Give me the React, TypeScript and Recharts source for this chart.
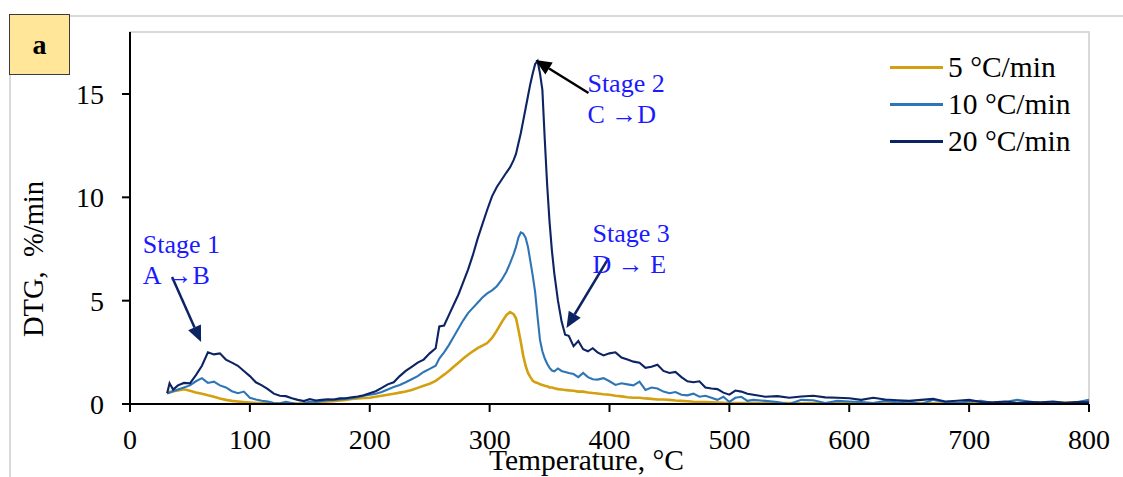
import React from 'react'
import {
  LineChart, Line, XAxis, YAxis, ReferenceArea, ReferenceLine, ReferenceDot, Label,
} from 'recharts'

// temperature grid, °C (denser around the main peak)
const temps = [
  31, 33, 36, 40, 45, 50, 55, 60, 65, 70,
  75, 80, 85, 90, 95, 100, 105, 110, 115, 120,
  125, 130, 135, 140, 145, 150, 155, 160, 165, 170,
  175, 180, 185, 190, 195, 200, 205, 210, 215, 220,
  225, 230, 235, 240, 245, 250, 255, 258, 262, 266,
  270, 274, 278, 282, 286, 290, 294, 298, 302, 306,
  310, 314, 317, 320, 322, 324, 326, 328, 330, 332,
  334, 336, 338, 340, 342, 344, 346, 348, 350, 352,
  354, 357, 360, 363, 366, 370, 374, 378, 382, 386,
  390, 395, 400, 405, 410, 415, 420, 425, 430, 435,
  440, 445, 450, 455, 460, 465, 470, 475, 480, 485,
  490, 495, 500, 505, 510, 515, 520, 530, 540, 550,
  560, 570, 580, 590, 600, 610, 620, 630, 640, 650,
  660, 670, 680, 690, 700, 710, 720, 730, 740, 750,
  760, 770, 780, 790, 800,
]

// DTG, %/min
const dtg5 = [
  0.52, 0.58, 0.62, 0.66, 0.71, 0.64, 0.56, 0.5, 0.42, 0.35,
  0.27, 0.2, 0.15, 0.12, 0.09, 0.07, 0.05, 0.04, 0.03, 0.02,
  0.01, 0.01, 0.01, 0.02, 0.03, 0.05, 0.07, 0.09, 0.12, 0.14,
  0.17, 0.2, 0.24, 0.27, 0.29, 0.3, 0.35, 0.4, 0.45, 0.5,
  0.55, 0.6, 0.68, 0.78, 0.88, 0.98, 1.12, 1.25, 1.42, 1.6,
  1.8, 2.0, 2.2, 2.38, 2.55, 2.7, 2.82, 2.95, 3.2, 3.55,
  3.95, 4.3, 4.45, 4.35, 4.15, 3.6, 3.0, 2.35, 1.85, 1.5,
  1.3, 1.12, 1.05, 1.02, 0.95, 0.92, 0.88, 0.86, 0.8, 0.8,
  0.76, 0.72, 0.7, 0.68, 0.66, 0.64, 0.6, 0.6, 0.56, 0.53,
  0.51, 0.47, 0.45, 0.4, 0.37, 0.33, 0.3, 0.3, 0.27, 0.25,
  0.22, 0.22, 0.2, 0.17, 0.15, 0.13, 0.11, 0.1, 0.09, 0.08,
  0.07, 0.06, 0.05, 0.05, 0.04, 0.05, 0.04, 0.04, 0.03, 0.05,
  0.03, 0.04, 0.03, 0.05, 0.03, 0.04, 0.03, 0.04, 0.03, 0.02,
  0.04, 0.03, 0.02, 0.03, 0.04, 0.05, 0.03, 0.04, 0.05, 0.06,
  0.05, 0.07, 0.06, 0.08, 0.15,
]

const dtg10 = [
  0.52, 0.55, 0.62, 0.7, 0.8, 0.9, 1.1, 1.25, 1.02, 1.08,
  0.9, 0.8, 0.62, 0.52, 0.6, 0.3, 0.22, 0.16, 0.12, 0.05,
  0.03, 0.1, 0.05, 0.0, 0.02, 0.12, 0.1, 0.15, 0.18, 0.2,
  0.22, 0.25, 0.28, 0.33, 0.4, 0.45, 0.5, 0.58, 0.7, 0.82,
  0.92, 1.05, 1.2, 1.35, 1.55, 1.7, 1.85, 2.2, 2.5, 2.85,
  3.25, 3.65, 4.05, 4.4, 4.65, 4.9, 5.15, 5.35, 5.5, 5.7,
  6.0, 6.4, 6.8, 7.25, 7.6, 8.05, 8.3, 8.25, 8.05, 7.6,
  6.9, 6.2, 5.4, 4.2, 3.1, 2.55, 2.2, 1.95, 1.75, 1.62,
  1.58, 1.72, 1.6, 1.55, 1.5, 1.45, 1.3, 1.5, 1.3, 1.2,
  1.18, 1.25, 1.1, 0.92, 1.0, 0.95, 0.9, 1.08, 0.68, 0.8,
  0.75, 0.6, 0.52, 0.58, 0.45, 0.42, 0.5, 0.35, 0.4, 0.3,
  0.2, 0.35, 0.1, 0.3, 0.35, 0.15, 0.2, 0.15, 0.1, 0.0,
  0.2, 0.18, 0.05, 0.15, 0.12, 0.1, 0.05, 0.15, 0.08, 0.12,
  0.0, 0.2, 0.1, 0.05, 0.12, 0.15, 0.05, 0.1, 0.2, 0.12,
  0.05, 0.1, 0.0, 0.08, 0.2,
]

const dtg20 = [
  0.52, 1.0, 0.7, 0.9, 1.02, 1.0, 1.4, 1.85, 2.5, 2.4,
  2.45, 2.15, 2.0, 1.85, 1.6, 1.35, 1.05, 0.9, 0.72, 0.5,
  0.4, 0.38, 0.28, 0.2, 0.14, 0.24, 0.17, 0.2, 0.23, 0.22,
  0.27, 0.28, 0.33, 0.36, 0.42, 0.52, 0.62, 0.78, 0.95, 1.05,
  1.35, 1.6, 1.8, 2.0, 2.15, 2.45, 2.7, 3.75, 3.8, 4.3,
  4.8, 5.3, 5.9, 6.5, 7.2, 8.0, 8.7, 9.4, 10.05, 10.5,
  10.85, 11.2, 11.45, 11.8, 12.1, 12.6, 13.1, 13.7, 14.3, 14.9,
  15.5, 16.0, 16.45, 16.6, 16.0, 15.2, 12.8, 10.6, 8.8, 7.4,
  6.3, 5.0, 4.0, 3.35, 3.3, 2.8, 3.05, 2.65, 2.55, 2.7,
  2.5, 2.35, 2.45, 2.5, 2.25, 2.15, 2.05, 2.0, 1.75, 1.8,
  1.9, 1.6, 1.5, 1.55, 1.3, 1.1, 1.05, 1.1, 0.8, 0.75,
  0.72, 0.55, 0.45, 0.65, 0.6, 0.5, 0.45, 0.35, 0.38, 0.3,
  0.36, 0.4, 0.32, 0.3, 0.28, 0.2, 0.3, 0.22, 0.18, 0.15,
  0.2, 0.25, 0.12, 0.16, 0.2, 0.1, 0.08, 0.12, 0.05, 0.1,
  0.08, 0.12, 0.06, 0.1, 0.08,
]

const seriesNames = ['5 °C/min', '10 °C/min', '20 °C/min']
const xTicks = [0, 100, 200, 300, 400, 500, 600, 700, 800]
const yTicks = [0, 5, 10, 15]

// stage annotations, in data units (temperature, DTG)
const stageText = [
  { t: 10.6, v: 7.32, lines: ['Stage 1', 'A \u2192B'] },
  { t: 381.6, v: 15.11, lines: ['Stage 2', 'C \u2192D'] },
  { t: 385.8, v: 7.85, lines: ['Stage 3', 'D \u2192 E'] },
]
const stageArrows = [
  { from: [35.1, 6.14], to: [59.3, 3.0], color: '#0c2364' },
  { from: [382.5, 15.05], to: [338.2, 16.64], color: '#000000' },
  { from: [399.2, 7.06], to: [364.1, 3.68], color: '#0c2364' },
]

const rows = temps.map((t, i) => ({ t, d5: dtg5[i], d10: dtg10[i], d20: dtg20[i] }))

const FONT = '"Liberation Serif", "Times New Roman", serif'
const COLORS = ['#d4a00f', '#2e75b6', '#0c2364']
const KEYS = ['d5', 'd10', 'd20']

function arrowShape(color: string) {
  return (p: any) => {
    const { x1, y1, x2, y2 } = p
    const dx = x2 - x1
    const dy = y2 - y1
    const len = Math.sqrt(dx * dx + dy * dy) || 1
    const ux = dx / len
    const uy = dy / len
    const head = 16
    const half = 7
    const bx = x2 - ux * head
    const by = y2 - uy * head
    return (
      <g>
        <line x1={x1} y1={y1} x2={bx} y2={by} stroke={color} strokeWidth={2.5} />
        <polygon
          points={`${x2},${y2} ${bx - uy * half},${by + ux * half} ${bx + uy * half},${by - ux * half}`}
          fill={color}
        />
      </g>
    )
  }
}

function stageShape(lines: string[]) {
  return (p: any) => (
    <text x={p.cx} y={p.cy} fill="#1a1aff" fontSize={26} fontFamily={FONT}>
      {lines.map((s, i) => (
        <tspan key={i} x={p.cx} dy={i === 0 ? 0 : 31}>{s}</tspan>
      ))}
    </text>
  )
}

export default function App() {
  return (
    <div style={{ position: 'absolute', left: 0, top: 0, width: 1123, height: 477, background: '#fff', overflow: 'hidden', fontFamily: FONT }}>
      <div style={{ position: 'absolute', left: 9, top: 15, width: 1200, height: 500, borderLeft: '2px solid #d9d9d9', borderTop: '2px solid #d9d9d9' }} />
      <div style={{ position: 'absolute', left: 0, top: 0 }}>
        <LineChart width={1123} height={477} data={rows} margin={{ top: 32, right: 34, bottom: 0, left: 30 }}>
          <ReferenceArea x1={0} x2={800} y1={0} y2={18} fill="none" stroke="#d9d9d9" strokeWidth={2} />
          <XAxis
            dataKey="t"
            type="number"
            domain={[0, 800]}
            ticks={xTicks}
            height={73}
            tickSize={8}
            tickMargin={17}
            axisLine={{ stroke: '#000', strokeWidth: 2 }}
            tickLine={{ stroke: '#000', strokeWidth: 2 }}
            tick={{ fill: '#000', fontSize: 28, fontFamily: FONT }}
          >
            <Label
              content={(p: any) => {
                const vb = p.viewBox || { x: 130, width: 959 }
                return (
                  <text x={vb.x + vb.width / 2 - 23} y={470} textAnchor="middle" fill="#000" fontSize={29.5} fontFamily={FONT}>
                    Temperature, °C
                  </text>
                )
              }}
            />
          </XAxis>
          <YAxis
            type="number"
            domain={[0, 18]}
            ticks={yTicks}
            width={100}
            tickSize={8}
            tickMargin={18}
            axisLine={{ stroke: '#000', strokeWidth: 2 }}
            tickLine={{ stroke: '#000', strokeWidth: 2 }}
            tick={{ fill: '#000', fontSize: 28, fontFamily: FONT }}
          >
            <Label
              content={() => (
                <text x={43} y={259} transform="rotate(-90, 43, 259)" textAnchor="middle" fill="#000" fontSize={28.5} fontFamily={FONT}>
                  {'DTG,\u00a0 %/min'}
                </text>
              )}
            />
          </YAxis>
          {KEYS.map((k, i) => (
            <Line
              key={k}
              type="linear"
              dataKey={k}
              name={seriesNames[i]}
              stroke={COLORS[i]}
              strokeWidth={i === 0 ? 2.6 : 2.1}
              dot={false}
              isAnimationActive={false}
            />
          ))}
          {stageArrows.map((a, i) => (
            <ReferenceLine
              key={'arrow' + i}
              segment={[{ x: a.from[0], y: a.from[1] }, { x: a.to[0], y: a.to[1] }]}
              shape={arrowShape(a.color)}
            />
          ))}
          {stageText.map((s, i) => (
            <ReferenceDot key={'stage' + i} x={s.t} y={s.v} r={0} shape={stageShape(s.lines)} />
          ))}
        </LineChart>
      </div>
      {/* legend, top right inside the plot */}
      <div style={{ position: 'absolute', left: 890, top: 48.5, fontSize: 29.5, color: '#000' }}>
        {seriesNames.map((name, i) => (
          <div key={name} style={{ display: 'flex', alignItems: 'center', height: 37 }}>
            <div style={{ width: 53, height: 3, background: COLORS[i], marginRight: 5 }} />
            <span style={{ whiteSpace: 'nowrap', lineHeight: '37px' }}>{name}</span>
          </div>
        ))}
      </div>
      <div
        style={{
          position: 'absolute', left: 9, top: 14, width: 61, height: 61, boxSizing: 'border-box',
          border: '1px solid #3a3a3a', background: '#ffe699', display: 'flex', alignItems: 'center',
          justifyContent: 'center', fontWeight: 'bold', fontSize: 28, fontFamily: FONT,
        }}
      >
        a
      </div>
    </div>
  )
}
